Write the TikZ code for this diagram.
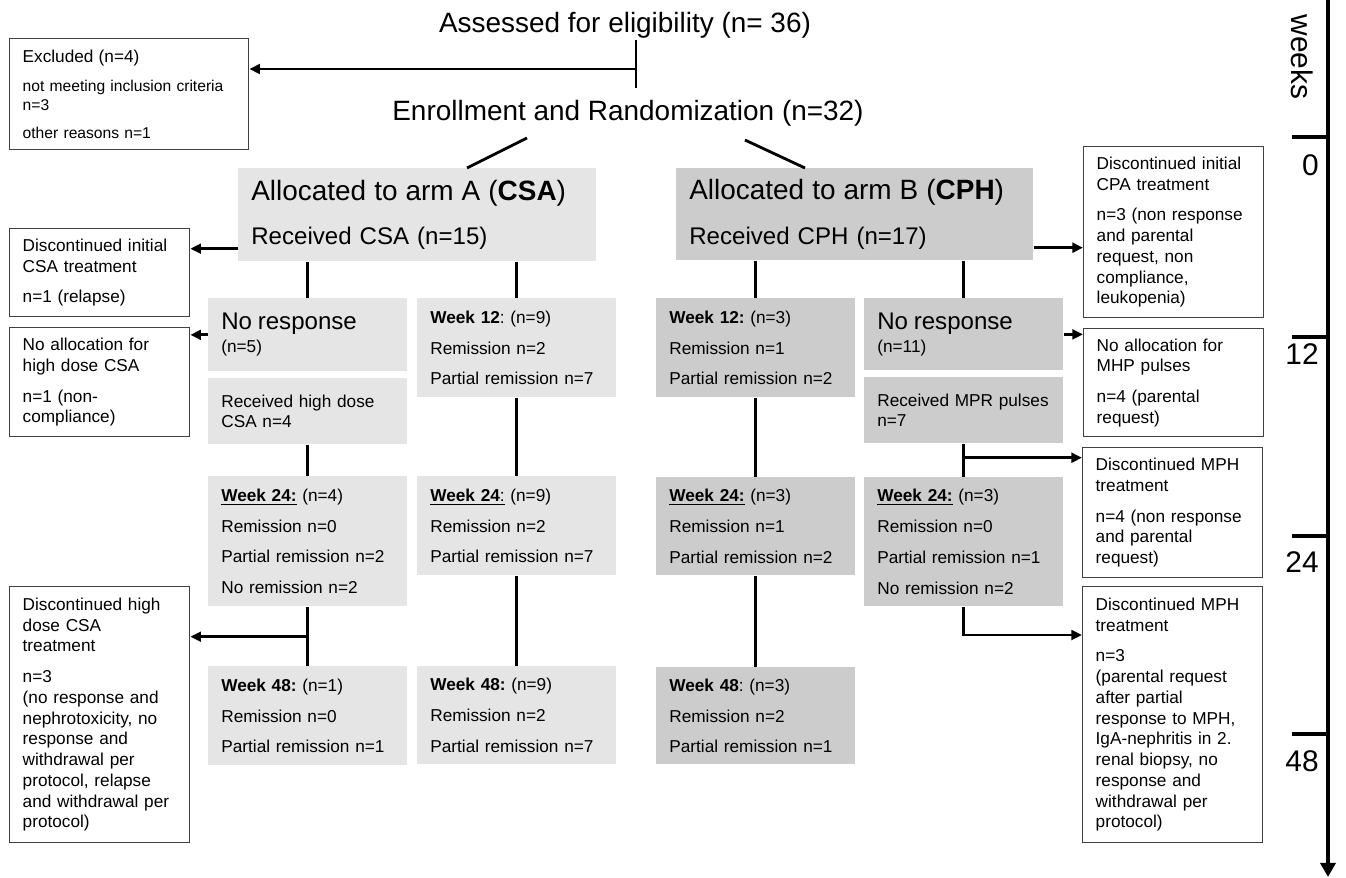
\documentclass[tikz,border=0pt]{standalone}
\usepackage{fontspec}
\setmainfont{Liberation Sans}
\usetikzlibrary{arrows.meta, positioning, calc}

\definecolor{armAgray}{gray}{0.9}
\definecolor{armBgray}{gray}{0.8}
\newcommand{\lgap}{\\[5.7pt]}
\frenchspacing

\begin{document}
\begin{tikzpicture}[x=0.02cm, y=-0.02cm,
    every node/.style={inner sep=0pt},
    conn/.style={line width=1.6pt},
    arr/.style={line width=1.6pt, -{Triangle[length=6pt,width=5.5pt]}},
    toptext/.style={font=\fontsize{15.9}{19}\selectfont},
    boxA/.style={anchor=north west, align=left, inner xsep=0.26cm, inner ysep=0pt,
        fill=armAgray, font=\fontsize{9.8}{11.8}\selectfont},
    boxB/.style={boxA, fill=armBgray},
    gsmall/.style={text width=3.46cm},
    wbox/.style={anchor=north west, align=left, inner xsep=0.26cm, inner ysep=0pt,
        draw=black!75, line width=0.8pt, text width=3.08cm,
        font=\fontsize{9.8}{11.8}\selectfont},
    timeline/.style={line width=1.9pt},
    weeknum/.style={anchor=east, font=\fontsize{17}{20}\selectfont}]

    \fill[white] (0,0) rectangle (1346,877);
    \useasboundingbox (0,0) rectangle (1346,877);

    % Screening
    \node[toptext] (assess) at (625,25) {Assessed for eligibility (n= 36)};
    \node[toptext] (enroll) at (628,113) {Enrollment and Randomization (n=32)};
    \node[wbox, text width=4.26cm, minimum height=2.22cm, font=\fontsize{8.9}{10.8}\selectfont] (excl) at (9,38)
        {{\fontsize{9.8}{11.8}\selectfont Excluded (n=4)}\\[5.6pt]
         not meeting inclusion criteria\\ n=3\\[5.1pt] other reasons n=1};

    \coordinate (sTop) at (636,40);
    \coordinate (sBot) at (636,88);
    \coordinate (sMid) at (636,69);
    \draw[conn] (sTop) -- (sBot);
    \draw[arr] (sMid) -- (sMid -| excl.east);

    % Arm A (CSA)
    \node[boxA, text width=6.64cm, minimum height=1.86cm, font=\fontsize{13.7}{16.4}\selectfont] (armA) at (238,168)
        {{\fontsize{15.9}{19}\selectfont Allocated to arm A (\textbf{CSA})}\\[8.8pt] Received CSA (n=15)};
    \node[boxA, gsmall, minimum height=1.46cm] (nrA) at (208,298)
        {{\fontsize{13.7}{16.4}\selectfont No response}\\[1.2pt] (n=5)};
    \node[boxA, gsmall, minimum height=1.32cm] (hdA) at (208,378)
        {Received high dose\\ CSA n=4};
    \node[boxA, gsmall, minimum height=1.98cm] (wk12A) at (417,298)
        {\textbf{Week 12}: (n=9)\lgap Remission n=2\lgap Partial remission n=7};
    \node[boxA, gsmall, minimum height=2.6cm] (wk24A) at (208,476)
        {\underline{\textbf{Week 24:}} (n=4)\lgap Remission n=0\lgap Partial remission n=2\lgap No remission n=2};
    \node[boxA, gsmall, minimum height=1.98cm] (wk24A2) at (417,476)
        {\underline{\textbf{Week 24}:} (n=9)\lgap Remission n=2\lgap Partial remission n=7};
    \node[boxA, gsmall, minimum height=1.98cm] (wk48A) at (208,666)
        {\textbf{Week 48:} (n=1)\lgap Remission n=0\lgap Partial remission n=1};
    \node[boxA, gsmall, minimum height=1.96cm] (wk48A2) at (417,666)
        {\textbf{Week 48:} (n=9)\lgap Remission n=2\lgap Partial remission n=7};

    % Arm B (CPH)
    \node[boxB, text width=6.62cm, minimum height=1.84cm, font=\fontsize{13.7}{16.4}\selectfont] (armB) at (676,168)
        {{\fontsize{15.9}{19}\selectfont Allocated to arm B (\textbf{CPH})}\\[8.8pt] Received CPH (n=17)};
    \node[boxB, gsmall, minimum height=1.98cm] (wk12B) at (656,298)
        {\textbf{Week 12:} (n=3)\lgap Remission n=1\lgap Partial remission n=2};
    \node[boxB, gsmall, minimum height=1.44cm] (nrB) at (864,298)
        {{\fontsize{13.7}{16.4}\selectfont No response}\\[1.2pt] (n=11)};
    \node[boxB, gsmall, minimum height=1.32cm] (mprB) at (864,377)
        {Received MPR pulses\\ n=7};
    \node[boxB, gsmall, minimum height=1.96cm] (wk24B) at (656,477)
        {\underline{\textbf{Week 24:}} (n=3)\lgap Remission n=1\lgap Partial remission n=2};
    \node[boxB, gsmall, minimum height=2.58cm] (wk24B2) at (864,477)
        {\underline{\textbf{Week 24:}} (n=3)\lgap Remission n=0\lgap Partial remission n=1\lgap No remission n=2};
    \node[boxB, gsmall, minimum height=1.94cm] (wk48B) at (656,667)
        {\textbf{Week 48}: (n=3)\lgap Remission n=2\lgap Partial remission n=1};

    % Drop-outs, left
    \node[wbox, minimum height=1.76cm] (dcsa) at (9,228)
        {Discontinued initial\\ CSA treatment\lgap n=1 (relapse)};
    \node[wbox, minimum height=2.18cm] (nacsa) at (9,327)
        {No allocation for\\ high dose CSA\lgap n=1 (non-\\ compliance)};
    \node[wbox, minimum height=5.12cm] (dhcsa) at (9,586)
        {Discontinued high\\ dose CSA\\ treatment\lgap n=3\\ (no response and\\ nephrotoxicity, no\\
         response and\\ withdrawal per\\ protocol, relapse\\ and withdrawal per\\ protocol)};

    % Drop-outs, right
    \node[wbox, minimum height=3.42cm] (dcpa) at (1083,146)
        {Discontinued initial\\ CPA treatment\lgap n=3 (non response\\ and parental\\ request, non\\
         compliance,\\ leukopenia)};
    \node[wbox, minimum height=2.16cm] (nampr) at (1083,328)
        {No allocation for\\ MHP pulses\lgap n=4 (parental\\ request)};
    \node[wbox, minimum height=2.6cm] (dmph1) at (1082,447)
        {Discontinued MPH\\ treatment\lgap n=4 (non response\\ and parental\\ request)};
    \node[wbox, minimum height=5.12cm] (dmph2) at (1082,586)
        {Discontinued MPH\\ treatment\lgap n=3\\ (parental request\\ after partial\\ response to MPH,\\
         IgA-nephritis in 2.\\ renal biopsy, no\\ response and\\ withdrawal per\\ protocol)};

    % Randomization
    \coordinate (eA) at (527,138);
    \coordinate (aA) at (467,168);
    \coordinate (eB) at (745,140);
    \coordinate (aB) at (805,168);
    \draw[conn] (eA) -- (aA);
    \draw[conn] (eB) -- (aB);

    % Connectors arm A
    \coordinate (xA) at ($(armA.south west)+(0,-13)$);
    \draw[arr] (xA) -- (xA -| dcsa.east);
    \draw[arr] (nrA.west) -- (nrA.west -| nacsa.east);
    \draw[conn] (nrA.north |- armA.south) -- (nrA.north);
    \draw[conn] (wk12A.north |- armA.south) -- (wk12A.north);
    \draw[conn] (hdA.south) -- (wk24A.north);
    \draw[conn] (wk12A.south) -- (wk24A2.north);
    \draw[conn] (wk24A.south) -- (wk48A.north);
    \draw[conn] (wk24A2.south) -- (wk48A2.north);
    \coordinate (xH) at ($(wk24A.south)+(0,30)$);
    \draw[arr] (xH) -- (xH -| dhcsa.east);

    % Connectors arm B
    \coordinate (xB) at ($(armB.south east)+(0,-13)$);
    \draw[arr] (xB) -- (xB -| dcpa.west);
    \draw[arr] (nrB.east) -- (nrB.east -| nampr.west);
    \draw[conn] (wk12B.north |- armB.south) -- (wk12B.north);
    \draw[conn] (nrB.north |- armB.south) -- (nrB.north);
    \draw[conn] (wk12B.south) -- (wk24B.north);
    \draw[conn] (wk24B.south) -- (wk48B.north);
    \draw[conn] (mprB.south) -- (wk24B2.north);
    \coordinate (xM) at ($(mprB.south)+(0,14)$);
    \draw[arr] (xM) -- (xM -| dmph1.west);
    \coordinate (xP) at ($(dmph2.north west)+(0,49)$);
    \draw[arr] (wk24B2.south) |- (xP);

    % Time axis
    \draw[timeline, line width=2.4pt, -{Triangle[length=8pt,width=8.5pt]}] (1328,0) -- (1328,877);
    \foreach \t in {137,337,536,734}
        \draw[timeline] (1292,\t) -- (1328,\t);
    \node[rotate=-90, font=\fontsize{17}{20}\selectfont] (weeks) at (1302,57) {weeks};
    \node[weeknum] (w0) at (1319,165) {0};
    \node[weeknum] (w12) at (1319,354) {12};
    \node[weeknum] (w24) at (1319,562) {24};
    \node[weeknum] (w48) at (1319,761) {48};
\end{tikzpicture}
\end{document}
